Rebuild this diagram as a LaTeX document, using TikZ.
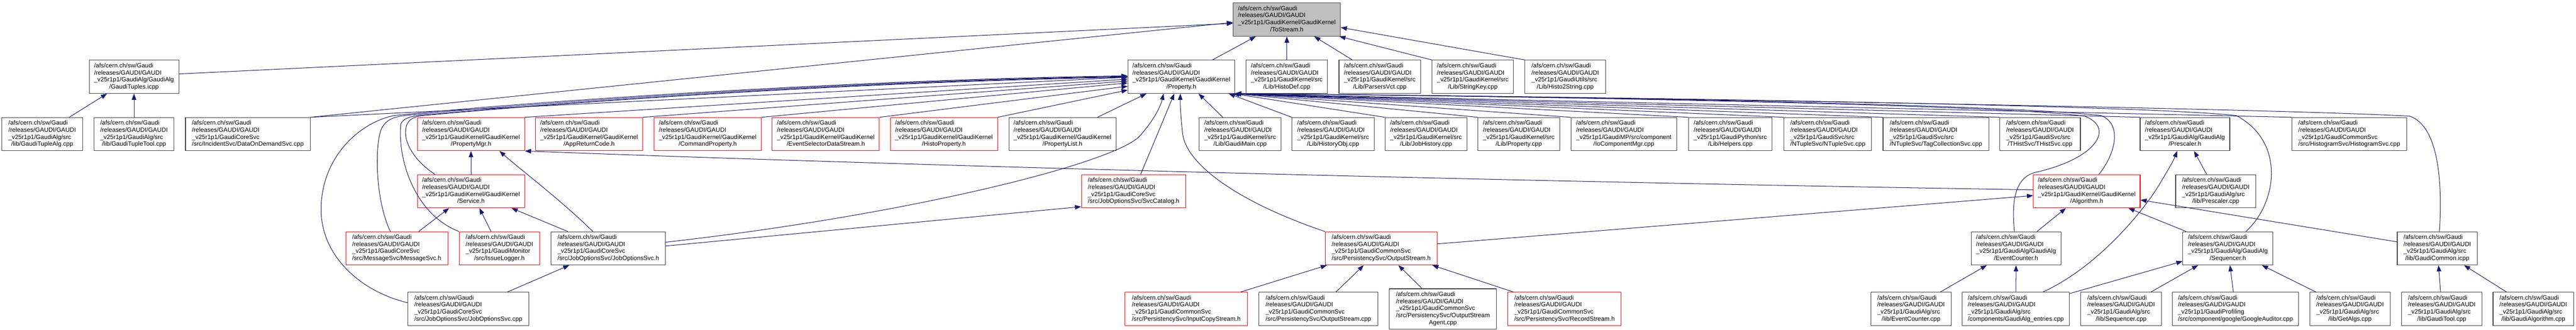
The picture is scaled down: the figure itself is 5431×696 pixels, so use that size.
\documentclass[tikz,border=0pt]{standalone}
\usepackage{fontspec}
\setmainfont{Liberation Sans}
\usetikzlibrary{arrows.meta,calc}
\definecolor{edgecol}{HTML}{191970}
\definecolor{grayfill}{HTML}{BFBFBF}
\definecolor{nodeline}{HTML}{404040}
\newcommand\gtxt[2]{\begin{tabular}{@{}l@{}}/afs/cern.ch/sw/Gaudi\\/releases/GAUDI/GAUDI\\#1\\\multicolumn{1}{@{}c@{}}{#2}\end{tabular}}
\newcommand\gtxtf[3]{\begin{tabular}{@{}l@{}}/afs/cern.ch/sw/Gaudi\\/releases/GAUDI/GAUDI\\#1\\#2\\\multicolumn{1}{@{}c@{}}{#3}\end{tabular}}
\begin{document}
\begin{tikzpicture}[x=1pt,y=-1pt,
  nb/.style={draw=nodeline, line width=1.2pt, fill=white, inner sep=0pt, minimum height=70pt, font=\fontsize{13}{14.8}\selectfont},
  rb/.style={nb, draw=red},
  dep/.style={draw=edgecol, line width=1.1pt, -{Triangle[length=13pt,width=9.5pt]}}]
\useasboundingbox (0,0) rectangle (5431,696);
\fill[white] (0,0) rectangle (5431,696);
% Row A
\node[nb, fill=grayfill, minimum width=226pt] (tostream) at (2713,41.3) {\gtxt{\_v25r1p1/GaudiKernel/GaudiKernel}{/ToStream.h}};
% Row B
\node[nb, minimum width=189pt] (gtuples) at (282.5,162) {\gtxt{\_v25r1p1/GaudiAlg/GaudiAlg}{/GaudiTuples.icpp}};
\node[nb, minimum width=225pt] (property) at (2490.5,162) {\gtxt{\_v25r1p1/GaudiKernel/GaudiKernel}{/Property.h}};
\node[nb, minimum width=172pt] (histodef) at (2713,162) {\gtxt{\_v25r1p1/GaudiKernel/src}{/Lib/HistoDef.cpp}};
\node[nb, minimum width=172pt] (parsersvct) at (2909,162) {\gtxt{\_v25r1p1/GaudiKernel/src}{/Lib/ParsersVct.cpp}};
\node[nb, minimum width=172pt] (stringkey) at (3105,162) {\gtxt{\_v25r1p1/GaudiKernel/src}{/Lib/StringKey.cpp}};
\node[nb, minimum width=170pt] (histo2string) at (3300,162) {\gtxt{\_v25r1p1/GaudiUtils/src}{/Lib/Histo2String.cpp}};
% Row C
\node[nb, minimum width=170pt] (gtalg) at (89,283) {\gtxt{\_v25r1p1/GaudiAlg/src}{/lib/GaudiTupleAlg.cpp}};
\node[nb, minimum width=169pt] (gttool) at (282.5,283) {\gtxt{\_v25r1p1/GaudiAlg/src}{/lib/GaudiTupleTool.cpp}};
\node[nb, minimum width=263pt] (dod) at (522.5,283) {\gtxt{\_v25r1p1/GaudiCoreSvc}{/src/IncidentSvc/DataOnDemandSvc.cpp}};
\node[rb, minimum width=226pt] (propmgr) at (993,283) {\gtxt{\_v25r1p1/GaudiKernel/GaudiKernel}{/PropertyMgr.h}};
\node[rb, minimum width=226pt] (appret) at (1242,283) {\gtxt{\_v25r1p1/GaudiKernel/GaudiKernel}{/AppReturnCode.h}};
\node[rb, minimum width=226pt] (cmdprop) at (1492,283) {\gtxt{\_v25r1p1/GaudiKernel/GaudiKernel}{/CommandProperty.h}};
\node[rb, minimum width=226pt] (evsel) at (1741,283) {\gtxt{\_v25r1p1/GaudiKernel/GaudiKernel}{/EventSelectorDataStream.h}};
\node[rb, minimum width=226pt] (histoprop) at (1990,283) {\gtxt{\_v25r1p1/GaudiKernel/GaudiKernel}{/HistoProperty.h}};
\node[nb, minimum width=226pt] (proplist) at (2240,283) {\gtxt{\_v25r1p1/GaudiKernel/GaudiKernel}{/PropertyList.h}};
\node[nb, minimum width=173pt] (gaudimain) at (2614.5,283) {\gtxt{\_v25r1p1/GaudiKernel/src}{/Lib/GaudiMain.cpp}};
\node[nb, minimum width=173pt] (histobj) at (2810.5,283) {\gtxt{\_v25r1p1/GaudiKernel/src}{/Lib/HistoryObj.cpp}};
\node[nb, minimum width=173pt] (jobhist) at (3006.5,283) {\gtxt{\_v25r1p1/GaudiKernel/src}{/Lib/JobHistory.cpp}};
\node[nb, minimum width=172pt] (propcpp) at (3202,283) {\gtxt{\_v25r1p1/GaudiKernel/src}{/Lib/Property.cpp}};
\node[nb, minimum width=223pt] (iocomp) at (3423.5,283) {\gtxt{\_v25r1p1/GaudiMP/src/component}{/IoComponentMgr.cpp}};
\node[nb, minimum width=176pt] (helpers) at (3648,283) {\gtxt{\_v25r1p1/GaudiPython/src}{/Lib/Helpers.cpp}};
\node[nb, minimum width=185pt] (ntuplesvc) at (3853.5,283) {\gtxt{\_v25r1p1/GaudiSvc/src}{/NTupleSvc/NTupleSvc.cpp}};
\node[nb, minimum width=223pt] (tagcoll) at (4081.5,283) {\gtxt{\_v25r1p1/GaudiSvc/src}{/NTupleSvc/TagCollectionSvc.cpp}};
\node[nb, minimum width=170pt] (thist) at (4301,283) {\gtxt{\_v25r1p1/GaudiSvc/src}{/THistSvc/THistSvc.cpp}};
\node[nb, minimum width=189pt] (prescalerh) at (4606.5,283) {\gtxt{\_v25r1p1/GaudiAlg/GaudiAlg}{/Prescaler.h}};
\node[nb, minimum width=242pt] (histsvc) at (4953,283) {\gtxt{\_v25r1p1/GaudiCommonSvc}{/src/HistogramSvc/HistogramSvc.cpp}};
% Row D
\node[rb, minimum width=226pt] (service) at (993,403.5) {\gtxt{\_v25r1p1/GaudiKernel/GaudiKernel}{/Service.h}};
\node[rb, minimum width=220pt] (svccat) at (2390,403.5) {\gtxt{\_v25r1p1/GaudiCoreSvc}{/src/JobOptionsSvc/SvcCatalog.h}};
\node[rb, minimum width=225pt] (algorithm) at (4399.5,403.5) {\gtxt{\_v25r1p1/GaudiKernel/GaudiKernel}{/Algorithm.h}};
\node[nb, minimum width=169pt] (prescalercpp) at (4671.5,403.5) {\gtxt{\_v25r1p1/GaudiAlg/src}{/lib/Prescaler.cpp}};
% Row E
\node[rb, minimum width=215pt] (msgsvc) at (836.5,524) {\gtxt{\_v25r1p1/GaudiCoreSvc}{/src/MessageSvc/MessageSvc.h}};
\node[rb, minimum width=170pt] (issuelog) at (1053,524) {\gtxt{\_v25r1p1/GaudiMonitor}{/src/IssueLogger.h}};
\node[nb, minimum width=241pt] (josvch) at (1282.5,524) {\gtxt{\_v25r1p1/GaudiCoreSvc}{/src/JobOptionsSvc/JobOptionsSvc.h}};
\node[rb, minimum width=236pt] (outstreamh) at (2912,524) {\gtxt{\_v25r1p1/GaudiCommonSvc}{/src/PersistencySvc/OutputStream.h}};
\node[nb, minimum width=189pt] (evcounterh) at (4250.5,524) {\gtxt{\_v25r1p1/GaudiAlg/GaudiAlg}{/EventCounter.h}};
\node[nb, minimum width=190pt] (sequencerh) at (4697,524) {\gtxt{\_v25r1p1/GaudiAlg/GaudiAlg}{/Sequencer.h}};
\node[nb, minimum width=169pt] (gcommon) at (5138.5,524) {\gtxt{\_v25r1p1/GaudiAlg/src}{/lib/GaudiCommon.icpp}};
% Row F
\node[nb, minimum width=255pt] (josvccpp) at (987.5,651.7) {\gtxt{\_v25r1p1/GaudiCoreSvc}{/src/JobOptionsSvc/JobOptionsSvc.cpp}};
\node[rb, minimum width=258pt] (inputcopy) at (2501,651.7) {\gtxt{\_v25r1p1/GaudiCommonSvc}{/src/PersistencySvc/InputCopyStream.h}};
\node[nb, minimum width=251pt] (outstreamcpp) at (2779.5,651.7) {\gtxt{\_v25r1p1/GaudiCommonSvc}{/src/PersistencySvc/OutputStream.cpp}};
\node[nb, minimum width=226pt, minimum height=85pt] (osagent) at (3042,651.9) {\gtxtf{\_v25r1p1/GaudiCommonSvc}{/src/PersistencySvc/OutputStream}{Agent.cpp}};
\node[rb, minimum width=239pt] (recordstream) at (3298.5,651.7) {\gtxt{\_v25r1p1/GaudiCommonSvc}{/src/PersistencySvc/RecordStream.h}};
\node[nb, minimum width=170pt] (evcountercpp) at (4029,651.7) {\gtxt{\_v25r1p1/GaudiAlg/src}{/lib/EventCounter.cpp}};
\node[nb, minimum width=226pt] (gaentries) at (4250,651.7) {\gtxt{\_v25r1p1/GaudiAlg/src}{/components/GaudiAlg\_entries.cpp}};
\node[nb, minimum width=170pt] (seqcpp) at (4472,651.7) {\gtxt{\_v25r1p1/GaudiAlg/src}{/lib/Sequencer.cpp}};
\node[nb, minimum width=266pt] (google) at (4713,651.7) {\gtxt{\_v25r1p1/GaudiProfiling}{/src/component/google/GoogleAuditor.cpp}};
\node[nb, minimum width=169pt] (getalgs) at (4954.5,651.7) {\gtxt{\_v25r1p1/GaudiAlg/src}{/lib/GetAlgs.cpp}};
\node[nb, minimum width=170pt] (gaudtool) at (5148,651.7) {\gtxt{\_v25r1p1/GaudiAlg/src}{/lib/GaudiTool.cpp}};
\node[nb, minimum width=170pt] (galgorithm) at (5341,651.7) {\gtxt{\_v25r1p1/GaudiAlg/src}{/lib/GaudiAlgorithm.cpp}};

% Edges into ToStream.h
\draw[dep] ([yshift=6pt]gtuples.east) -- ([yshift=-8pt]tostream.west);
\draw[dep] (dod.north east) -- ([yshift=-6pt]tostream.west);
\draw[dep] (property) -- (tostream);
\draw[dep] (histodef) -- (tostream);
\draw[dep] (parsersvct) -- (tostream);
\draw[dep] (stringkey.north west) -- ([xshift=-3pt]tostream.south east);
\draw[dep] (histo2string.north west) -- ([yshift=-16.7pt]tostream.east);
% into GaudiTuples.icpp
\draw[dep] (gtalg) -- (gtuples);
\draw[dep] (gttool) -- (gtuples);
% into Property.h from left
\draw[dep] (dod.north east) -- ([yshift=-1pt]property.west);
\draw[dep] ([yshift=13pt]josvccpp.west) .. controls (760,615) and (677,540) .. (677,442) .. controls (677,330) and (760,258) .. (830,244) .. controls (1100,215) and (1800,168) .. ([yshift=2pt]property.west);
\draw[dep] ([xshift=-13.5pt]msgsvc.north) .. controls (790,420) and (790,300) .. (805,270) .. controls (815,252) and (830,246) .. (860,243) .. controls (1150,215) and (1800,170) .. ([yshift=1pt]property.west);
\draw[dep] (issuelog.north west) .. controls (870,450) and (838,330) .. (845,262) .. controls (850,247) and (875,243) .. (910,241) .. controls (1200,215) and (1800,172) .. ([yshift=0pt]property.west);
\draw[dep] ([xshift=-76pt]service.north) .. controls (875,340) and (855,305) .. (855,280) .. controls (855,258) and (865,247) .. (890,244) .. controls (1200,215) and (1800,173) .. ([yshift=-1pt]property.west);
\draw[dep] (propmgr.north east) -- ([yshift=-5pt]property.west);
\draw[dep] (appret.north east) -- ([yshift=-9pt]property.west);
\draw[dep] (cmdprop.north east) -- ([yshift=-13pt]property.west);
\draw[dep] (evsel.north east) -- ([yshift=-20pt]property.west);
\draw[dep] (histoprop.north east) -- ([yshift=-28pt]property.west);
% into Property.h from below
\draw[dep] (proplist) -- (property);
\draw[dep] (gaudimain) -- (property);
\draw[dep] (svccat) -- (property);
\draw[dep] ([yshift=13pt]josvch.east) .. controls (1900,455) and (2330,350) .. (2400,290) .. controls (2430,258) and (2447,225) .. ([xshift=-37.5pt]property.south);
\draw[dep] (outstreamh.north west) .. controls (2620,430) and (2500,350) .. (2493,280) .. controls (2490,250) and (2488,225) .. ([xshift=-2pt]property.south);
% into Property.h from right
\draw[dep] (histobj.north west) -- ([xshift=-13pt]property.south east);
\draw[dep] (jobhist.north west) -- ([xshift=-4pt]property.south east);
\draw[dep] (propcpp.north west) -- (property.south east);
\draw[dep] (iocomp.north west) -- (property.south east);
\draw[dep] (helpers.north west) -- (property.south east);
\draw[dep] (ntuplesvc.north west) -- (property.south east);
\draw[dep] (tagcoll.north west) -- (property.south east);
\draw[dep] (thist.north west) -- (property.south east);
\draw[dep] (prescalerh.north west) -- (property.south east);
\draw[dep] (histsvc.north west) -- (property.south east);
\draw[dep] ([xshift=-3.5pt]evcounterh.north) .. controls (4240,420) and (4250,375) .. (4290,364) .. controls (4420,335) and (4460,270) .. (4395,245) .. controls (4200,218) and (3000,200) .. (property.south east);
\draw[dep] ([xshift=25.5pt]algorithm.north) .. controls (4460,325) and (4475,262) .. (4430,244) .. controls (4200,216) and (3000,200) .. (property.south east);
\draw[dep] ([xshift=38pt]sequencerh.north) .. controls (4800,430) and (4820,300) .. (4715,244) .. controls (4500,218) and (3000,200) .. (property.south east);
\draw[dep] ([xshift=4.5pt]gcommon.north) .. controls (5150,380) and (5140,265) .. (5080,245) .. controls (4700,225) and (3000,200) .. (property.south east);
% into PropertyMgr.h
\draw[dep] (service) -- (propmgr);
\draw[dep] ([xshift=-32.5pt]josvch.north) .. controls (1180,420) and (1100,360) .. ([xshift=60pt]propmgr.south);
\draw[dep] ([yshift=3pt]algorithm.west) .. controls (3000,380) and (1800,345) .. (propmgr.south east);
% into Service.h
\draw[dep] (msgsvc) -- (service);
\draw[dep] (issuelog) -- (service);
\draw[dep] (josvch) -- (service);
% into SvcCatalog.h
\draw[dep] ([yshift=5pt]josvch.east) -- ([yshift=3pt]svccat.south west);
% into JobOptionsSvc.h
\draw[dep] (josvccpp) -- (josvch);
% into OutputStream.h
\draw[dep] (inputcopy) -- (outstreamh);
\draw[dep] (outstreamcpp) -- (outstreamh);
\draw[dep] (osagent) -- (outstreamh);
\draw[dep] (recordstream) -- (outstreamh);
% into Algorithm.h
\draw[dep] (outstreamh) -- (algorithm);
\draw[dep] (evcounterh) -- (algorithm);
\draw[dep] (sequencerh) -- (algorithm);
\draw[dep] (gcommon) -- (algorithm);
% into Prescaler.h
\draw[dep] (prescalercpp) -- (prescalerh);
\draw[dep] ([xshift=57pt]gaentries.north) .. controls (4430,560) and (4530,430) .. (4555,385) .. controls (4570,360) and (4582,340) .. ([xshift=-16.5pt]prescalerh.south);
% into EventCounter.h
\draw[dep] (evcountercpp) -- (evcounterh);
\draw[dep] (gaentries) -- (evcounterh);
% into Sequencer.h
\draw[dep] (gaentries) -- (sequencerh);
\draw[dep] (seqcpp) -- (sequencerh);
\draw[dep] (google) -- (sequencerh);
\draw[dep] (getalgs) -- (sequencerh);
% into GaudiCommon.icpp
\draw[dep] (gaudtool) -- (gcommon);
\draw[dep] (galgorithm) -- (gcommon);
\end{tikzpicture}
\end{document}
